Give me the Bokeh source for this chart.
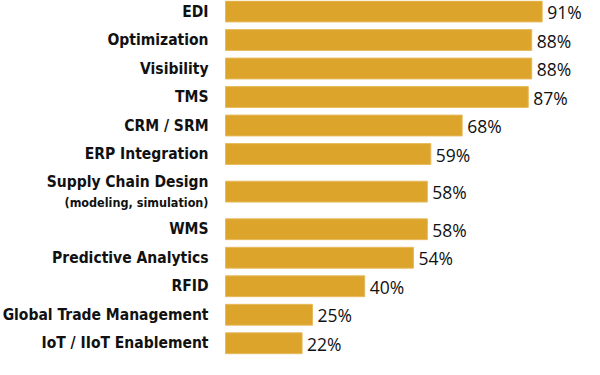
from bokeh.plotting import figure
from bokeh.models import Range1d, ColumnDataSource
from bokeh.core.properties import value
from bokeh.embed import file_html
from bokeh.resources import INLINE

categories = ["EDI", "Optimization", "Visibility", "TMS", "CRM / SRM", "ERP Integration",
              "Supply Chain Design", "WMS", "Predictive Analytics", "RFID",
              "Global Trade Management", "IoT / IIoT Enablement"]
values = [91, 88, 88, 87, 68, 59, 58, 58, 54, 40, 25, 22]
notes = ["", "", "", "", "", "", "(modeling, simulation)", "", "", "", "", ""]

# slot positions: extra room around the two-line label
ypos = []
for i, n in enumerate(categories):
    extra = 0.0
    if i > 5:
        extra += 0.32
    if i > 6:
        extra += 0.32
    ypos.append(i + extra)

src = ColumnDataSource(dict(cat=categories, val=values, y=ypos,
                            pct=[f"{v}%" for v in values],
                            note=notes,
                            main_off=[(-9.5 if n else 0) for n in notes]))

p = figure(width=584, height=359, output_backend="svg", toolbar_location=None,
           x_range=Range1d(-64.66, 103.16), y_range=Range1d(12.21, -0.386),
           min_border=0, min_border_left=0, min_border_right=0,
           min_border_top=0, min_border_bottom=0)
p.axis.visible = False
p.xgrid.visible = False
p.ygrid.visible = False
p.outline_line_color = None
p.background_fill_color = "white"
p.border_fill_color = "white"

p.hbar(y="y", left=0, right="val", height=0.73, source=src,
       fill_color="#DCA42A", line_color="#E6B95A", line_width=1)

p.text(x=0, y="y", text="cat", source=src, x_offset=-17, y_offset="main_off",
       text_align="right", text_baseline="middle",
       text_font=value("DejaVu Sans Condensed"), text_font_style="bold",
       text_font_size="15.5px", text_color="#111111")
p.text(x=0, y="y", text="note", source=src, x_offset=-17, y_offset=11,
       text_align="right", text_baseline="middle",
       text_font=value("DejaVu Sans Condensed"), text_font_style="bold",
       text_font_size="12.5px", text_color="#111111")

p.text(x="val", y="y", text="pct", source=src, x_offset=5, y_offset=0.5,
       text_align="left", text_baseline="middle",
       text_font=value("Open Sans"), text_font_size="17.5px", text_color="#111111")

open("out.html", "w").write(file_html(p, INLINE))
